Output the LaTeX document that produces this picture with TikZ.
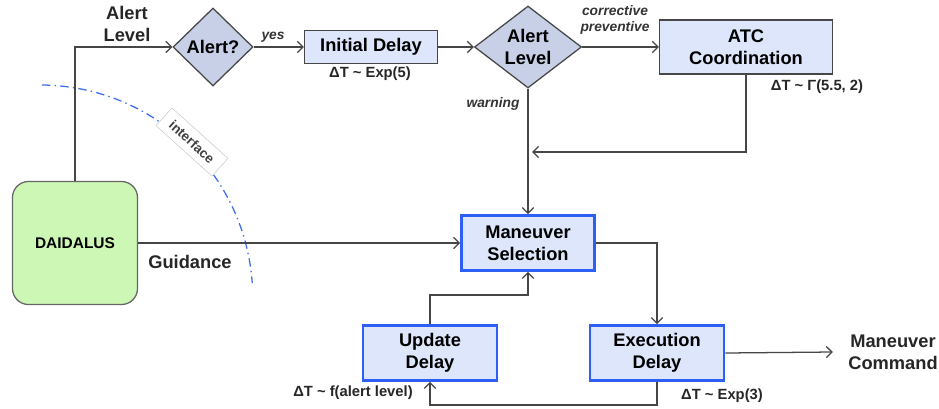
\documentclass[tikz,border=0pt]{standalone}
\usepackage{fontspec}
\setmainfont{Liberation Sans}
\usetikzlibrary{shapes.geometric}
\usetikzlibrary{arrows.meta}

\definecolor{linegray}{RGB}{70,70,70}
\definecolor{boxfill}{RGB}{221,230,250}
\definecolor{diafill}{RGB}{200,208,232}
\definecolor{selblue}{RGB}{45,95,245}
\definecolor{daifill}{RGB}{205,247,180}
\definecolor{arcblue}{RGB}{60,110,235}
\newcommand\boxfont{\bfseries\fontsize{13}{15.5}\selectfont}
\newcommand\notefont{\bfseries\fontsize{10.5}{12}\selectfont}
\newcommand\tagfont{\bfseries\itshape\fontsize{9.8}{11.5}\selectfont}

\begin{document}
\begin{tikzpicture}[x=0.025cm, y=-0.025cm, >={Straight Barb[length=4pt,width=8pt]},
  line/.style={draw=linegray, line width=0.9pt},
  box/.style={draw=linegray, fill=boxfill, line width=0.9pt, font=\boxfont, align=center, inner sep=0pt},
  bluebox/.style={box, draw=selblue, line width=2pt},
  decision/.style={diamond, draw=linegray, fill=diafill, line width=0.9pt, font=\boxfont, align=center, inner sep=0pt},
  note/.style={font=\notefont, text=black!85},
  tag/.style={font=\tagfont, align=center, text=black!80},
  label/.style={font=\boxfont, align=center, text=black!85}]
\useasboundingbox (0,0) rectangle (939,408);

% interface boundary
\draw[arcblue, line width=0.9pt, dash pattern=on 6pt off 3pt on 1pt off 3pt]
  (42,85) arc[start angle=-89.4, end angle=-4, radius=213];

\node[box, draw=black!60, fill=daifill, rounded corners=0.4cm, minimum width=3.125cm, minimum height=3.075cm, font=\bfseries\fontsize{11}{13}\selectfont] (dai) at (75,243) {DAIDALUS};
\node[decision, minimum width=2cm, minimum height=1.95cm] (alert) at (213,47) {Alert?};
\node[box, minimum width=3.325cm, minimum height=0.825cm] (init) at (371,47) {Initial Delay};
\node[decision, minimum width=2.675cm, minimum height=1.95cm] (level) at (528,47) {Alert\\Level};
\node[box, minimum width=4.325cm, minimum height=1.35cm] (atc) at (746,47) {ATC\\Coordination};
\node[bluebox, minimum width=3.325cm, minimum height=1.375cm] (sel) at (528,243) {Maneuver\\Selection};
\node[bluebox, minimum width=3.35cm, minimum height=1.375cm] (upd) at (430,353) {Update\\Delay};
\node[bluebox, minimum width=3.35cm, minimum height=1.375cm] (exec) at (657,353) {Execution\\Delay};
\node[label, inner xsep=0.38cm, inner ysep=0pt] (cmd) at (893,352) {Maneuver\\Command};

\node[label] (lvl) at (127,24) {Alert\\Level};
\node[label] (guid) at (190,262) {Guidance};
\node[tag] (yes) at (273,37) {yes};
\node[tag] (corr) at (615,20) {corrective\\preventive};
\node[tag] (warn) at (493,104) {warning};
\node[note] (dt1) at (370,74) {ΔT \textasciitilde{} Exp(5)};
\node[note] (dt2) at (817,87) {ΔT \textasciitilde{} Γ(5.5, 2)};
\node[note] (dt3) at (353,393) {ΔT \textasciitilde{} f(alert level)};
\node[note] (dt4) at (722,396) {ΔT \textasciitilde{} Exp(3)};
\node[draw=black!20, fill=white, rotate=-42, font=\bfseries\fontsize{9.5}{11}\selectfont, text=black!75, inner xsep=7pt, inner ysep=5pt] (iface) at (192,142) {interface};

\coordinate (merge) at (532,152);

\draw[line, ->] (dai.north) |- (alert.west);
\draw[line, ->] (alert.east) -- (init.west);
\draw[line, ->] (init.east) -- (level.west);
\draw[line, ->] (level.east) -- (atc.west);
\draw[line, ->] (level.south) -- (sel.north);
\draw[line, ->] (atc.south) |- (merge);
\draw[line, ->] (dai.east) -- (sel.west);
\draw[line, ->] (sel.east) -| (exec.north);
\draw[line, ->] (exec.east) -- (cmd.west);
\draw[line, ->] (exec.south) -- ++(0,23) -| (upd.south);
\draw[line, ->] (upd.north) -- ++(0,-29) -| (sel.south);
\end{tikzpicture}
\end{document}
